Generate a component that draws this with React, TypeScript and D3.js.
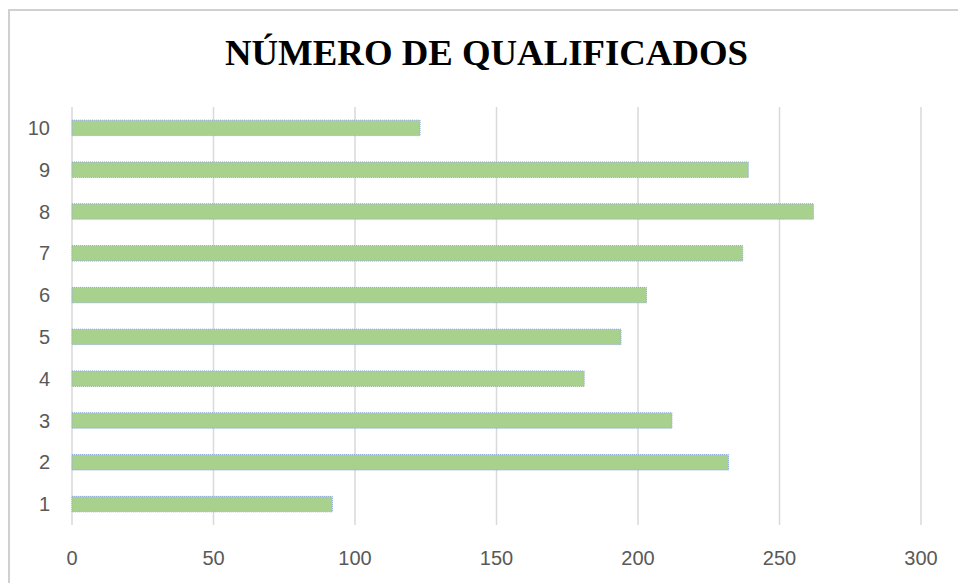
import React, { useEffect, useRef } from 'react';
import * as d3 from 'd3';

const categories = ['1', '2', '3', '4', '5', '6', '7', '8', '9', '10'];
const values = [92, 232, 212, 181, 194, 203, 237, 262, 239, 123];
const xTicks = [0, 50, 100, 150, 200, 250, 300];
const title = 'NÚMERO DE QUALIFICADOS';

const W = 958;
const H = 583;

export default function App() {
  const svgRef = useRef<SVGSVGElement>(null);

  useEffect(() => {
    const svg = d3.select(svgRef.current);
    svg.selectAll('*').remove();

    const x = d3.scaleLinear().domain([0, 300]).range([72, 921]);
    const y = d3.scaleBand()
      .domain(categories.slice().reverse())
      .range([107, 525])
      .paddingInner(0.63)
      .paddingOuter(0.315);

    // borde del área del gráfico
    svg.append('path')
      .attr('d', `M9,${H} L9,10 L${W},10`)
      .attr('fill', 'none')
      .attr('stroke', '#d0d0d0')
      .attr('stroke-width', 2);

    svg.append('text')
      .attr('x', 486.5)
      .attr('y', 65)
      .attr('text-anchor', 'middle')
      .attr('font-family', '"Liberation Serif", "Times New Roman", serif')
      .attr('font-weight', 'bold')
      .attr('font-size', 35)
      .attr('textLength', 523)
      .attr('lengthAdjust', 'spacingAndGlyphs')
      .attr('fill', '#000')
      .text(title);

    // líneas de cuadrícula
    svg.append('g')
      .selectAll('line')
      .data(xTicks)
      .enter()
      .append('line')
      .attr('x1', d => x(d))
      .attr('x2', d => x(d))
      .attr('y1', 107)
      .attr('y2', 525)
      .attr('stroke', '#d9d9d9')
      .attr('stroke-width', 1.5);

    // barras
    svg.append('g')
      .selectAll('rect')
      .data(values)
      .enter()
      .append('rect')
      .attr('x', x(0))
      .attr('y', (d, i) => y(categories[i]) as number)
      .attr('width', d => x(d) - x(0))
      .attr('height', y.bandwidth())
      .attr('fill', '#a9d18e')
      .attr('stroke', '#8eaadb')
      .attr('stroke-width', 1)
      .attr('stroke-dasharray', '1,1');

    // etiquetas del eje x
    svg.append('g')
      .selectAll('text')
      .data(xTicks)
      .enter()
      .append('text')
      .attr('x', d => x(d))
      .attr('y', 565)
      .attr('text-anchor', 'middle')
      .attr('font-family', '"Liberation Sans", Arial, sans-serif')
      .attr('font-size', 20)
      .attr('fill', '#595959')
      .text(d => d);

    // etiquetas del eje y
    svg.append('g')
      .selectAll('text')
      .data(categories)
      .enter()
      .append('text')
      .attr('x', 50)
      .attr('y', d => (y(d) as number) + y.bandwidth() / 2)
      .attr('dy', '0.35em')
      .attr('text-anchor', 'end')
      .attr('font-family', '"Liberation Sans", Arial, sans-serif')
      .attr('font-size', 20)
      .attr('fill', '#595959')
      .text(d => d);
  }, []);

  return (
    <svg
      ref={svgRef}
      width={W}
      height={H}
      style={{ position: 'absolute', left: 0, top: 0, background: '#fff' }}
    ></svg>
  );
}
